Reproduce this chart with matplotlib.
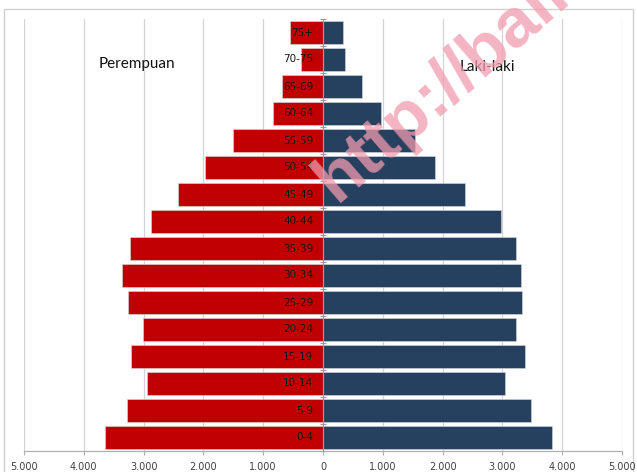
import matplotlib
matplotlib.use("Agg")
import matplotlib.pyplot as plt
from matplotlib.patches import Rectangle
import numpy as np

# ---- data (bottom to top) ----
age_groups = ['0-4', '5-9', '10-14', '15-19', '20-24', '25-29', '30-34', '35-39',
              '40-44', '45-49', '50-54', '55-59', '60-64', '65-69', '70-75', '75+']
perempuan = [3640, 3280, 2945, 3210, 3010, 3265, 3360, 3220,
             2875, 2425, 1965, 1500, 835, 685, 375, 555]
laki_laki = [3830, 3470, 3050, 3370, 3220, 3320, 3305, 3235,
             2980, 2375, 1876, 1546, 965, 657, 367, 333]
x_ticks = [-5000, -4000, -3000, -2000, -1000, 0, 1000, 2000, 3000, 4000, 5000]
x_tick_labels = ['5.000', '4.000', '3.000', '2.000', '1.000', '0',
                 '1.000', '2.000', '3.000', '4.000', '5.000']

W, H = 637, 472
fig = plt.figure(figsize=(W / 100, H / 100), dpi=100)
fig.patch.set_facecolor('white')

# outer chart frame
fig.add_artist(Rectangle((4 / W, -0.05), (633 - 4) / W, 1 - 9 / H + 0.05,
                         transform=fig.transFigure, fill=False,
                         edgecolor='#d0d0d0', linewidth=1.0, zorder=0))

ax = fig.add_axes([24 / W, 1 - 451 / H, (622 - 24) / W, (451 - 19) / H])
ax.set_facecolor('none')

y = np.arange(len(age_groups))
red = '#C00000'
navy = '#26405F'
ax.barh(y, [-v for v in perempuan], height=0.86, color=red,
        edgecolor='#d8d8d8', linewidth=0.4, zorder=3)
ax.barh(y, laki_laki, height=0.86, color=navy,
        edgecolor='#d8d8d8', linewidth=0.4, zorder=3)

ax.set_xlim(-5000, 5000)
ax.set_ylim(-0.5, len(age_groups) - 0.5)

# gridlines
for xv in x_ticks:
    if xv != 0:
        ax.axvline(xv, color='#d4d4d4', linewidth=0.9, zorder=1)

# spines
for s in ['top', 'right']:
    ax.spines[s].set_visible(False)
ax.spines['bottom'].set_color('#b0b0b0')
ax.spines['bottom'].set_linewidth(0.9)
ax.spines['left'].set_position(('data', 0))
ax.spines['left'].set_color('#9a9a9a')
ax.spines['left'].set_linewidth(0.9)
ax.spines['left'].set_zorder(4)

ax.set_xticks(x_ticks)
ax.set_xticklabels(x_tick_labels, fontsize=7, color='#404040',
                   family=['Liberation Sans Narrow', 'DejaVu Sans'])
ax.tick_params(axis='x', length=3, color='#b0b0b0', pad=5)
ax.set_yticks(np.arange(-0.5, len(age_groups), 1.0))
ax.set_yticklabels([])
ax.tick_params(axis='y', length=4, direction='inout', color='#9a9a9a')

# age labels inside the female bars
for yi, lab in zip(y, age_groups):
    ax.annotate(lab, xy=(0, yi), xytext=(-7, 0), textcoords='offset points',
                ha='right', va='center', fontsize=7.5, color='#141414',
                family=['Liberation Sans Narrow', 'DejaVu Sans'], zorder=5)

fig.text(137 / W, 1 - 64 / H, 'Perempuan', ha='center', va='center',
         fontsize=11, color='#111111', family=['Lato', 'DejaVu Sans'])
fig.text(487 / W, 1 - 67 / H, 'Laki-laki', ha='center', va='center',
         fontsize=11, color='#111111', family=['Lato', 'DejaVu Sans'])

# watermark (cut off at the top edge, as in the reference)
fig.text(336 / W, 1 - 203 / H, 'http://bali', rotation=41, rotation_mode='anchor',
         ha='left', va='baseline', fontsize=50, fontweight='bold',
         color=(241 / 255, 155 / 255, 175 / 255), alpha=0.75,
         family=['Liberation Sans', 'DejaVu Sans'], zorder=10)

fig.savefig('out.png', dpi=100, facecolor='white')
